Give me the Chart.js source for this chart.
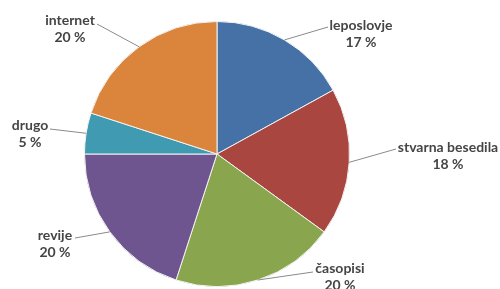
<!DOCTYPE html>
<html>
<head>
<meta charset="utf-8">
<script src="https://cdn.jsdelivr.net/npm/chart.js@4"></script>
<style>
  html, body { margin: 0; padding: 0; background: #fff; }
  #wrap { width: 500px; height: 289px; position: relative; }
</style>
</head>
<body>
<div id="wrap"><canvas id="pie"></canvas></div>
<script>
// === Data ===
const CATEGORIES = ['leposlovje', 'stvarna besedila', 'časopisi', 'revije', 'drugo', 'internet'];
const SHARES = [17, 18, 20, 20, 5, 20];

// === Style ===
const COLORS = ['#4571a7', '#a8463f', '#89a54d', '#6f5590', '#3f9ab2', '#da843c'];
const FONT = '"Lato", "Open Sans", sans-serif';
// where each label text sits (centre of first line) and where its leader line ends
const LABEL_POS = [[361, 25], [448, 147], [340, 268], [55, 235], [30, 125], [70, 20]];
const LINE_END = [[328, 27], [396, 149], [313, 272], [75, 238], [50, 129], [97, 24]];

const leaderLabels = {
    id: 'leaderLabels',
    afterDatasetsDraw(chart) {
        const ctx = chart.ctx;
        const arcs = chart.getDatasetMeta(0).data;
        ctx.save();
        arcs.forEach((arc, i) => {
            const p = arc.getProps(['x', 'y', 'startAngle', 'endAngle', 'outerRadius'], true);
            const mid = (p.startAngle + p.endAngle) / 2;
            const sx = p.x + Math.cos(mid) * p.outerRadius;
            const sy = p.y + Math.sin(mid) * p.outerRadius;
            ctx.strokeStyle = '#8a8a8a';
            ctx.lineWidth = 1;
            ctx.beginPath();
            ctx.moveTo(sx, sy);
            ctx.lineTo(LINE_END[i][0], LINE_END[i][1]);
            ctx.stroke();

            ctx.fillStyle = '#454545';
            ctx.font = `bold 14px ${FONT}`;
            ctx.textAlign = 'center';
            ctx.textBaseline = 'middle';
            const [lx, ly] = LABEL_POS[i];
            ctx.fillText(CATEGORIES[i], lx, ly);
            ctx.fillText(`${SHARES[i]} %`, lx, ly + 17);
        });
        ctx.restore();
    }
};

new Chart(document.getElementById('pie'), {
    type: 'pie',
    data: {
        labels: CATEGORIES,
        datasets: [{
            data: SHARES,
            backgroundColor: COLORS,
            borderColor: '#f2f2f2',
            borderWidth: 1
        }]
    },
    options: {
        responsive: true,
        maintainAspectRatio: false,
        animation: false,
        layout: { padding: { left: 84, right: 150, top: 21, bottom: 2 } },
        plugins: {
            legend: { display: false },
            tooltip: { enabled: false }
        }
    },
    plugins: [leaderLabels]
});
</script>
</body>
</html>
